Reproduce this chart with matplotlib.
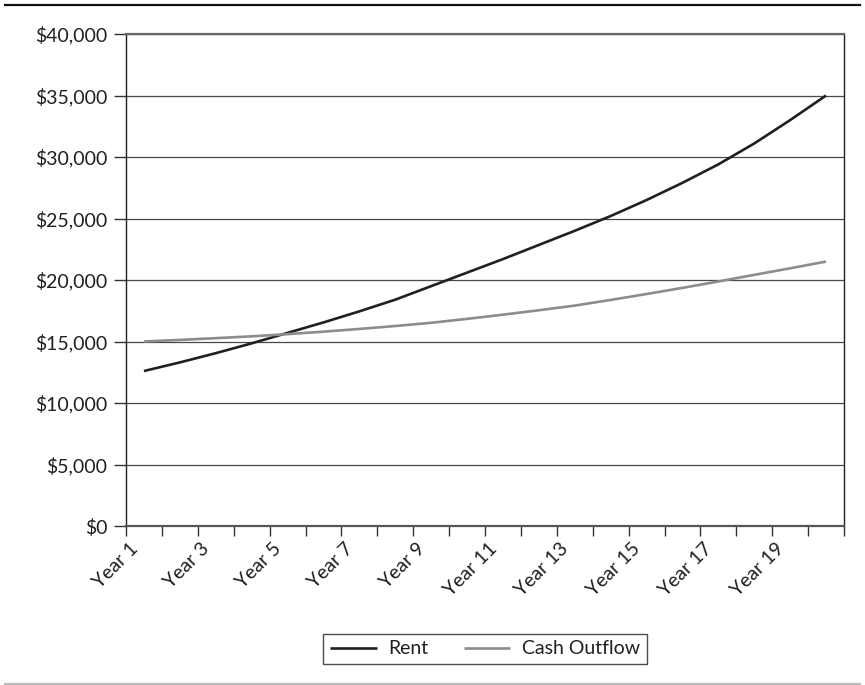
import matplotlib
matplotlib.use("Agg")
import matplotlib.pyplot as plt
import matplotlib.transforms as mtransforms
from matplotlib.lines import Line2D
from matplotlib.ticker import FuncFormatter, FixedLocator

plt.rcParams['font.family'] = ['Lato', 'DejaVu Sans']

years = [f"Year {i}" for i in range(1, 21)]
rent = [12600, 13300, 14050, 14850, 15700, 16550, 17450, 18400, 19500, 20600,
        21700, 22850, 24000, 25200, 26500, 27900, 29400, 31100, 33000, 35000]
cash_outflow = [15000, 15130, 15270, 15420, 15600, 15800, 16020, 16260, 16520, 16840,
                17180, 17540, 17920, 18380, 18860, 19360, 19880, 20420, 20950, 21500]
y_ticks = [0, 5000, 10000, 15000, 20000, 25000, 30000, 35000, 40000]

W, H = 865, 685
fig = plt.figure(figsize=(W / 100, H / 100), dpi=100)
ax = fig.add_axes([126 / W, 1 - 526 / H, (844 - 126) / W, (526 - 34) / H])

x = list(range(len(years)))
ax.plot(x, rent, color='#231f20', lw=1.9, label='Rent', solid_capstyle='butt', zorder=3)
ax.plot(x, cash_outflow, color='#8c8c8c', lw=1.9, label='Cash Outflow', solid_capstyle='butt', zorder=3)

ax.set_xlim(-0.5, len(years) - 0.5)
ax.set_ylim(0, 40000)

ax.set_yticks(y_ticks)
ax.yaxis.set_major_formatter(FuncFormatter(lambda v, p: f"${int(v):,}"))
ax.grid(axis='y', color='#4a4a4a', lw=0.9)
ax.set_axisbelow(True)

# major x ticks at category boundaries, labels at centers (odd years)
ax.xaxis.set_major_locator(FixedLocator([i - 0.5 for i in range(len(years) + 1)]))
ax.xaxis.set_major_formatter(FuncFormatter(lambda v, p: ""))
label_pos = [i for i in range(0, len(years), 2)]
ax.xaxis.set_minor_locator(FixedLocator(label_pos))
ax.set_xticklabels([years[i] for i in label_pos], minor=True)

ax.tick_params(axis='x', which='major', direction='out', length=7.5, width=1.0, color='#333333')
ax.tick_params(axis='x', which='minor', length=0, pad=0, labelsize=14, labelcolor='#231f20')
ax.tick_params(axis='y', which='major', direction='out', length=8.6, width=1.0, color='#333333',
               pad=5, labelsize=14, labelcolor='#231f20')

offset = mtransforms.ScaledTranslation(-9 / 100, -20 / 100, fig.dpi_scale_trans)
for lbl in ax.get_xticklabels(minor=True):
    lbl.set_rotation(45)
    lbl.set_ha('right')
    lbl.set_va('center')
    lbl.set_rotation_mode('anchor')
    lbl.set_transform(lbl.get_transform() + offset)

for s in ['left', 'right']:
    ax.spines[s].set_color('#231f20')
    ax.spines[s].set_linewidth(1.0)
ax.spines['top'].set_color('#666666')
ax.spines['top'].set_linewidth(1.6)
ax.spines['bottom'].set_color('#555555')
ax.spines['bottom'].set_linewidth(1.6)

leg = fig.legend(loc='center', bbox_to_anchor=(485 / W, 1 - 649 / H), ncol=2,
                 fontsize=14, frameon=True, fancybox=False, handlelength=2.4,
                 handletextpad=0.6, columnspacing=1.8, borderpad=0.35, borderaxespad=0)
leg.get_frame().set_edgecolor('#231f20')
leg.get_frame().set_linewidth(1.0)
for t in leg.get_texts():
    t.set_color('#231f20')

# decorative rules at top and bottom of figure
fig.add_artist(Line2D([5 / W, 860 / W], [1 - 5 / H, 1 - 5 / H], color='#111111', lw=1.6,
                      transform=fig.transFigure))
fig.add_artist(Line2D([5 / W, 860 / W], [1 - 684 / H, 1 - 684 / H], color='#bbbbbb', lw=1.6,
                      transform=fig.transFigure))

fig.savefig('out.png', dpi=100)
